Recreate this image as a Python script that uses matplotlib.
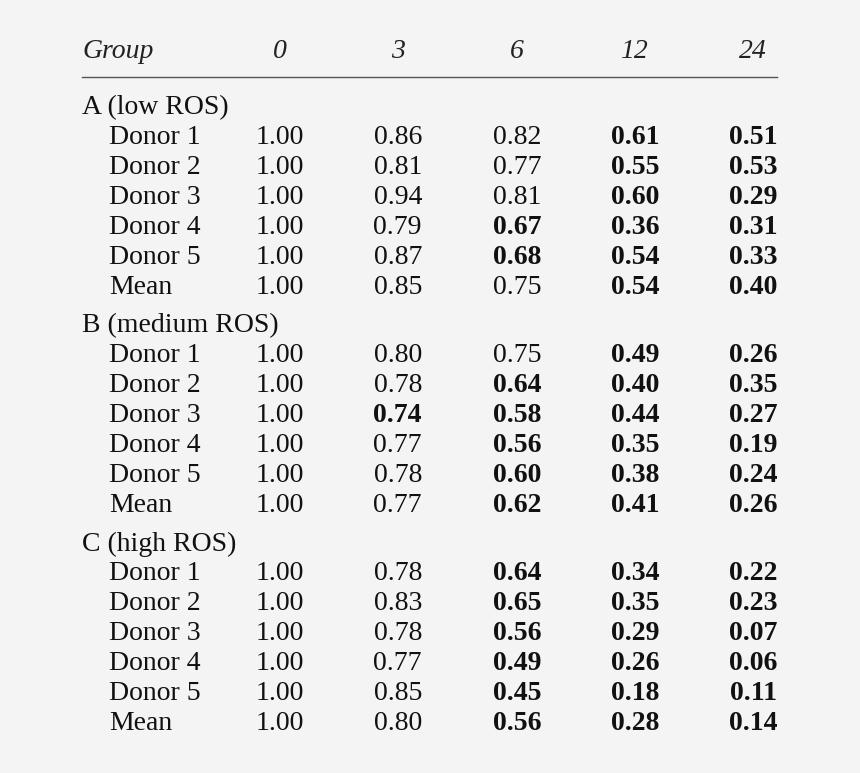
import matplotlib
matplotlib.use("Agg")
import matplotlib.pyplot as plt

hours = ["0", "3", "6", "12", "24"]
groups = ["A (low ROS)", "B (medium ROS)", "C (high ROS)"]
row_labels = ["Donor 1", "Donor 2", "Donor 3", "Donor 4", "Donor 5", "Mean"]
values_A = [[1.00, 0.86, 0.82, 0.61, 0.51], [1.00, 0.81, 0.77, 0.55, 0.53], [1.00, 0.94, 0.81, 0.60, 0.29],
            [1.00, 0.79, 0.67, 0.36, 0.31], [1.00, 0.87, 0.68, 0.54, 0.33], [1.00, 0.85, 0.75, 0.54, 0.40]]
values_B = [[1.00, 0.80, 0.75, 0.49, 0.26], [1.00, 0.78, 0.64, 0.40, 0.35], [1.00, 0.74, 0.58, 0.44, 0.27],
            [1.00, 0.77, 0.56, 0.35, 0.19], [1.00, 0.78, 0.60, 0.38, 0.24], [1.00, 0.77, 0.62, 0.41, 0.26]]
values_C = [[1.00, 0.78, 0.64, 0.34, 0.22], [1.00, 0.83, 0.65, 0.35, 0.23], [1.00, 0.78, 0.56, 0.29, 0.07],
            [1.00, 0.77, 0.49, 0.26, 0.06], [1.00, 0.85, 0.45, 0.18, 0.11], [1.00, 0.80, 0.56, 0.28, 0.14]]
all_values = [values_A, values_B, values_C]

W, H = 860, 773
fig = plt.figure(figsize=(W / 100, H / 100), dpi=100)
fig.patch.set_facecolor("#f4f4f4")
ax = fig.add_axes([0, 0, 1, 1])
ax.set_xlim(0, W); ax.set_ylim(H, 0); ax.axis("off")

fam = "Liberation Serif"
fs = 20
col_right = [304, 422, 541, 659, 777]
hdr_right = [287, 405, 524, 648, 767]

ax.text(82, 52, "Group", ha="left", va="center", fontsize=fs, style="italic", family=fam, color="#222")
for h, x in zip(hours, hdr_right):
    ax.text(x, 52, h, ha="right", va="center", fontsize=fs, style="italic", family=fam, color="#222")
ax.plot([82, 777], [77, 77], color="#555", lw=1)

y = 108
for g, vals in zip(groups, all_values):
    ax.text(82, y, g, ha="left", va="center", fontsize=fs, family=fam, color="#111")
    y += 30
    for lab, row in zip(row_labels, vals):
        ax.text(109, y, lab, ha="left", va="center", fontsize=fs, family=fam, color="#111")
        for j, (v, x) in enumerate(zip(row, col_right)):
            bold = j > 0 and v < 0.745
            ax.text(x, y, f"{v:.2f}", ha="right", va="center", fontsize=fs, family=fam,
                    weight="bold" if bold else "normal", color="#111")
        y += 30
    y += 8

fig.savefig("out.png", dpi=100, facecolor=fig.get_facecolor())
